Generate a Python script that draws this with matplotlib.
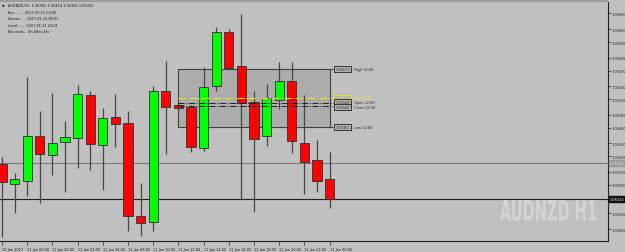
import matplotlib
matplotlib.use('Agg')
import matplotlib.pyplot as plt
from matplotlib.patches import Rectangle, PathPatch
from matplotlib.textpath import TextPath
from matplotlib.font_manager import FontProperties
from matplotlib.transforms import Affine2D

#----データ (AUDNZD H1)----
opens  = [1.05390, 1.05352, 1.05358, 1.05444, 1.05408, 1.05433, 1.05440, 1.05523, 1.05427,
          1.05481, 1.05469, 1.05290, 1.05279, 1.05531, 1.05504, 1.05500, 1.05421, 1.05540,
          1.05644, 1.05579, 1.05510, 1.05444, 1.05513, 1.05550, 1.05431, 1.05398, 1.05361]
highs  = [1.05404, 1.05373, 1.05558, 1.05492, 1.05527, 1.05473, 1.05542, 1.05531, 1.05498,
          1.05525, 1.05492, 1.05354, 1.05540, 1.05588, 1.05508, 1.05504, 1.05577, 1.05654,
          1.05650, 1.05679, 1.05531, 1.05544, 1.05586, 1.05586, 1.05523, 1.05436, 1.05414]
lows   = [1.05250, 1.05296, 1.05329, 1.05315, 1.05369, 1.05336, 1.05383, 1.05379, 1.05340,
          1.05423, 1.05262, 1.05252, 1.05262, 1.05410, 1.05494, 1.05413, 1.05415, 1.05531,
          1.05573, 1.05323, 1.05298, 1.05425, 1.05496, 1.05411, 1.05333, 1.05336, 1.05306]
closes = [1.05356, 1.05361, 1.05444, 1.05410, 1.05431, 1.05442, 1.05525, 1.05429, 1.05479,
          1.05467, 1.05290, 1.05277, 1.05531, 1.05500, 1.05498, 1.05423, 1.05538, 1.05644,
          1.05575, 1.05508, 1.05438, 1.05517, 1.05550, 1.05435, 1.05394, 1.05358, 1.05323]

time_labels = ['10 Jan 2017', '11 Jan 00:00', '11 Jan 02:00', '11 Jan 04:00', '11 Jan 06:00',
               '11 Jan 08:00', '11 Jan 10:00', '11 Jan 12:00', '11 Jan 14:00', '11 Jan 16:00',
               '11 Jan 18:00', '11 Jan 20:00', '11 Jan 22:00', '12 Jan 00:00']
time_ticks = [0, 2, 4, 6, 8, 10, 12, 14, 16, 18, 20, 22, 24, 26]

price_ticks = [1.05680, 1.05650, 1.05625, 1.05595, 1.05570, 1.05540, 1.05515, 1.05485,
               1.05460, 1.05430, 1.05405, 1.05375, 1.05350, 1.05295, 1.05265]

# 12:00 からのレンジ (High / Mid / Open / Close / Low)
range_names  = ['High 12:00', 'Mid 12:00', 'Open 12:00', 'Close 12:00', 'Low 12:00']
range_values = [1.05573, 1.05517, 1.05508, 1.05502, 1.05461]
range_start, range_end = 14, 26

bid_price = 1.05323
prev_line = 1.05392

header = ['AUDNZD,H1  1.05361 1.05414 1.05306 1.05323',
          'Bar........  2017.01.12 00:00',
          'Server.....  2017.01.12 00:01',
          'Local......  2017.01.11 23:01',
          'Bar ends..  0h 58m 43s']

#----描画----
BG = '#c0c0c0'
FS = 2.5
fig = plt.figure(figsize=(6.25, 2.53), dpi=100, facecolor=BG)
ax = fig.add_axes([0, 11/253, 608/625, 239/253], facecolor=BG)
fig.add_artist(Rectangle((0, 250/253), 608/625, 3/253, transform=fig.transFigure,
                         facecolor='#9c9c9c', edgecolor='none'))

ax.set_xlim(-0.16, 48.1)
ax.set_ylim(1.05242, 1.05702)

# 価格ライン
ax.axhline(prev_line, color='#7a7a7a', lw=0.8, zorder=1)
ax.axhline(bid_price, color='#202020', lw=0.8, zorder=1)

# レンジボックス
ax.add_patch(Rectangle((range_start, range_values[4]), range_end - range_start,
                       range_values[0] - range_values[4], facecolor='#acacac',
                       edgecolor='#404040', lw=0.8, zorder=1.5))
ax.hlines(range_values[1], range_start, 26.3, colors='#e6e61e', linestyles='-.', lw=0.8, zorder=4)
ax.hlines(range_values[2:4], range_start, 26.3, colors='#202020', linestyles='-.', lw=0.7, zorder=4)
ax.hlines([range_values[0], range_values[4]], range_end, 26.3, colors='#404040', lw=0.8, zorder=1.5)

# ローソク足
idx = list(range(len(opens)))
ax.vlines(idx, lows, highs, colors='#454545', lw=0.9, zorder=2)
for i in idx:
    up = closes[i] >= opens[i]
    ax.bar(i, abs(closes[i] - opens[i]) or 0.00002, bottom=min(opens[i], closes[i]),
           width=0.72, color='#00ff00' if up else '#ff0000', edgecolor='#303030',
           lw=0.6, zorder=3)

# レンジのラベル
for name, val in zip(range_names, range_values):
    col = '#e6e61e' if name.startswith('Mid') else '#202020'
    dy = {'Open 12:00': 0.00002, 'Close 12:00': -0.00002}.get(name, 0)
    ax.text(26.45, val + dy, f'{val:.5f}', fontsize=FS, color=col, va='center', ha='left',
            bbox=dict(boxstyle='square,pad=0.3', fc='#b4b4b4', ec=col, lw=0.6), zorder=5)
    ax.text(27.9, val + dy, name, fontsize=FS, color=col, va='center', ha='left', zorder=5)

# 透かし (縦長の文字にする)
tp = TextPath((0, 0), 'AUDNZD H1', size=20, prop=FontProperties(family='DejaVu Sans', weight='bold'))
ext = tp.get_extents()
sx, sy = 96 / ext.width, 21 / ext.height
wm = Affine2D().translate(-ext.x0, -ext.y0).scale(sx, sy).translate(500, 31)
fig.add_artist(PathPatch(tp, transform=wm, facecolor='#d4d4d4', edgecolor='none', zorder=0.5))

# 軸
for s in ['top', 'left']:
    ax.spines[s].set_visible(False)
ax.spines['right'].set_color('#202020')
ax.spines['bottom'].set_color('#202020')
ax.yaxis.tick_right()
ax.set_yticks(price_ticks)
ax.set_yticklabels([f'{p:.5f}' for p in price_ticks])
ax.tick_params(axis='y', labelsize=FS, length=2, width=0.5, pad=0.8, colors='#202020')
ax.set_xticks(time_ticks)
ax.set_xticklabels(time_labels, ha='left')
ax.tick_params(axis='x', labelsize=FS, length=3, width=0.5, pad=1, colors='#202020')

for p, fc, tc in [(prev_line, '#9a9a9a', '#e0e0e0'), (bid_price, '#101010', 'white')]:
    ax.annotate(f'{p:.5f}', xy=(1.0, p), xycoords=('axes fraction', 'data'),
                xytext=(1.5, 0), textcoords='offset points', fontsize=FS, color=tc,
                va='center', ha='left', annotation_clip=False,
                bbox=dict(boxstyle='square,pad=0.2', fc=fc, ec=fc))

# 左上の情報
ax.text(0.004, 0.993, '\u25bc', transform=ax.transAxes, fontsize=2.5, va='top', ha='left')
for n, line in enumerate(header):
    ax.text(0.013, 0.995 - n * 0.027, line, transform=ax.transAxes, fontsize=FS,
            va='top', ha='left', color='#101010')

fig.savefig('out.png', dpi=100, facecolor=BG)
